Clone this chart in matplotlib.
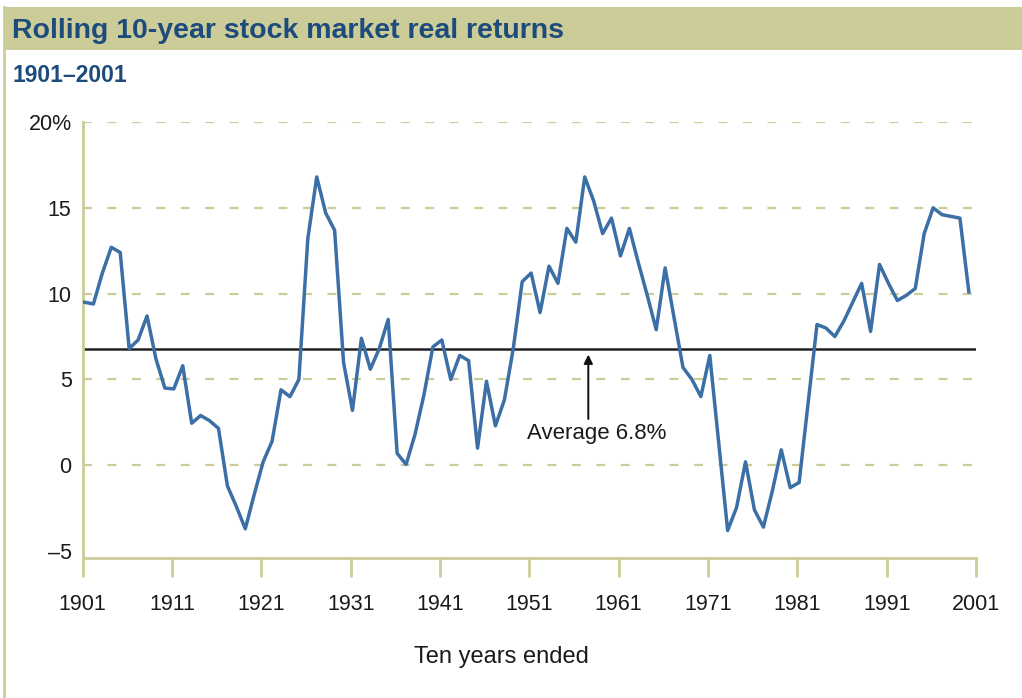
import matplotlib.pyplot as plt
from matplotlib.patches import Rectangle
from matplotlib.lines import Line2D

plt.rcParams['font.family'] = ['Liberation Sans', 'DejaVu Sans']

years = list(range(1901, 2001))
returns = [
    9.5, 9.4, 11.2, 12.7, 12.4, 6.8, 7.3, 8.7, 6.2, 4.5,
    4.45, 5.8, 2.45, 2.9, 2.6, 2.15, -1.2, -2.4, -3.7, -1.7,
    0.2, 1.4, 4.4, 4.0, 5.0, 13.2, 16.8, 14.7, 13.7, 6.0,
    3.2, 7.4, 5.6, 6.8, 8.5, 0.7, 0.05, 1.8, 4.1, 6.9,
    7.3, 5.0, 6.4, 6.1, 1.0, 4.9, 2.3, 3.8, 6.8, 10.7,
    11.2, 8.9, 11.6, 10.6, 13.8, 13.0, 16.8, 15.4, 13.5, 14.4,
    12.2, 13.8, 11.8, 9.9, 7.9, 11.5, 8.6, 5.7, 5.0, 4.0,
    6.4, 1.3, -3.8, -2.45, 0.2, -2.6, -3.6, -1.5, 0.9, -1.3,
    -1.0, 3.6, 8.2, 8.0, 7.5, 8.4, 9.5, 10.6, 7.8, 11.7,
    10.6, 9.6, 9.9, 10.3, 13.5, 15.0, 14.6, 14.5, 14.4, 10.1,
]
average = 6.8
x_ticks = [1901, 1911, 1921, 1931, 1941, 1951, 1961, 1971, 1981, 1991, 2001]
y_ticks = [-5, 0, 5, 10, 15, 20]
y_labels = ['\u20135', '0', '5', '10', '15', '20%']

khaki = '#cccc99'
navy = '#1c4b7c'
blue = '#3b6fa6'
ink = '#1a1a1a'

fig = plt.figure(figsize=(10.22, 6.98), dpi=100)

# title band and left border
fig.patches.append(Rectangle((5 / 1022, 1 - 50 / 698), 1, 43 / 698, transform=fig.transFigure,
                             facecolor=khaki, edgecolor='none', zorder=0))
fig.lines.append(Line2D([4 / 1022, 4 / 1022], [0, 1 - 7 / 698], transform=fig.transFigure,
                        color=khaki, lw=2))
fig.text(12 / 1022, 1 - 31 / 698, 'Rolling 10-year stock market real returns',
         fontsize=20.5, fontweight='bold', color=navy, va='center', ha='left')
fig.text(12 / 1022, 1 - 75 / 698, '1901\u20132001',
         fontsize=16.5, fontweight='bold', color=navy, va='center', ha='left')

ax = fig.add_axes([82.7 / 1022, 1 - 558 / 698, (976 - 82.7) / 1022, (558 - 122) / 698])
ax.set_xlim(1901, 2001)
ax.set_ylim(-5.4, 20)

for v in [0, 5, 10, 15, 20]:
    ax.axhline(v, color=khaki, lw=1.6, linestyle=(0, (4, 7)), zorder=1)

ax.axhline(average, color='#222222', lw=1.8, zorder=2)
ax.plot([y + 0.2 for y in years], returns, color=blue, lw=2.5, zorder=3)

ax.annotate('', xy=(1957.6, 6.45), xytext=(1957.6, 2.7),
            arrowprops=dict(arrowstyle='-|>', color='#111111', lw=1.4,
                            mutation_scale=13, shrinkA=0, shrinkB=0))
ax.text(1958.5, 1.85, 'Average 6.8%', ha='center', va='center', fontsize=16, color=ink)

for s in ['top', 'right']:
    ax.spines[s].set_visible(False)
for s in ['left', 'bottom']:
    ax.spines[s].set_color(khaki)
    ax.spines[s].set_linewidth(2)

ax.set_xticks(x_ticks)
ax.set_xticklabels([str(t) for t in x_ticks])
ax.set_yticks(y_ticks)
ax.set_yticklabels(y_labels)
ax.tick_params(axis='x', direction='out', length=14, width=2, color=khaki,
               labelsize=15.5, labelcolor=ink, pad=12)
ax.tick_params(axis='y', length=0, labelsize=15.5, labelcolor=ink, pad=8)
ax.set_xlabel('Ten years ended', fontsize=17, color=ink)
ax.xaxis.set_label_coords(0.469, -0.202)

fig.savefig('out.png', dpi=100)
